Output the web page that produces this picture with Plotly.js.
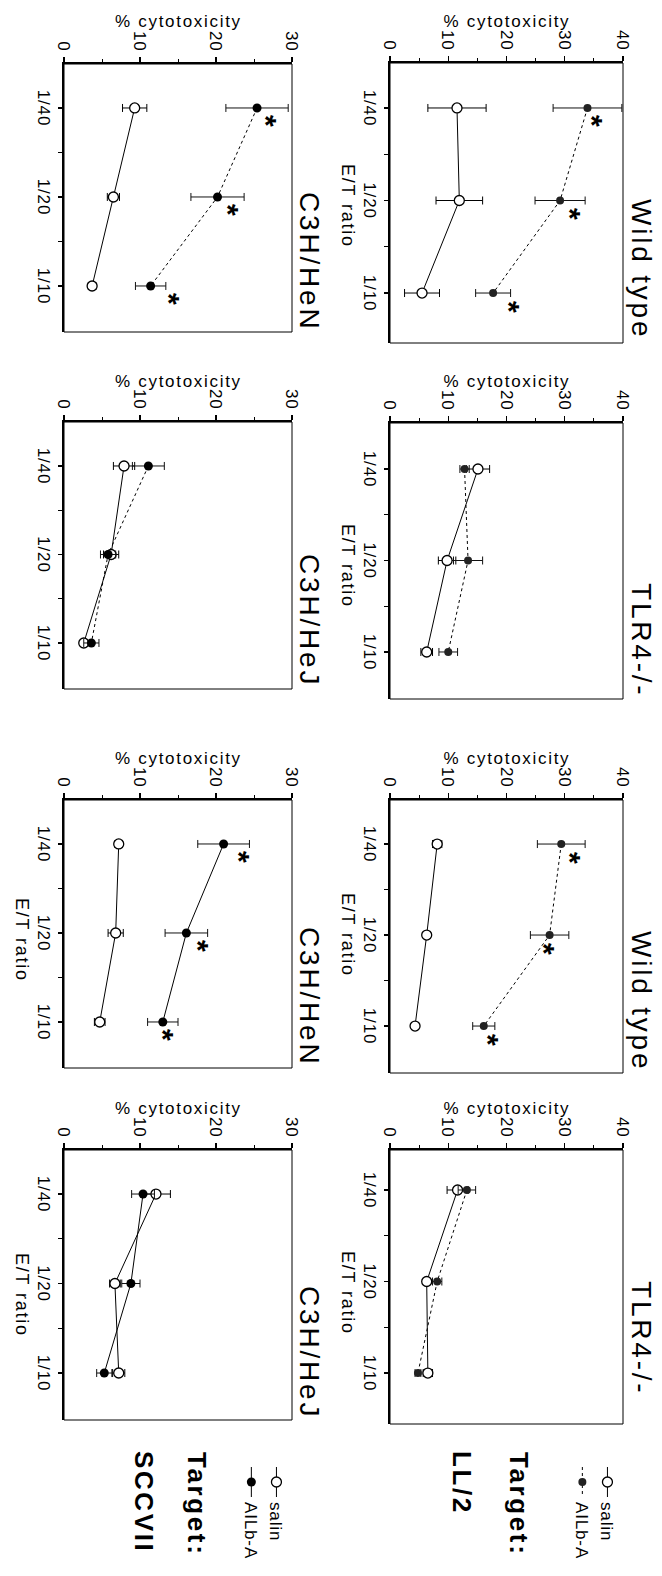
<!DOCTYPE html>
<html><head><meta charset="utf-8">
<script src="https://cdn.plot.ly/plotly-3.0.1.min.js"></script>
<style>
html,body{margin:0;padding:0;overflow:hidden;background:#fff;width:662px;height:1576px;}
#wrap{position:absolute;left:0;top:0;width:1576px;height:662px;transform-origin:0 0;transform:translate(662px,0) rotate(90deg);}
#chart{width:1576px;height:662px;}
text{letter-spacing:0.05em;}
text.annotation-text{letter-spacing:0.1em;}
</style></head>
<body><div id="wrap"><div id="chart"></div></div>
<script>
// ---------- DATA ----------
const categories = ['1/40', '1/20', '1/10'];
const seriesNames = ['salin', 'AILb-A'];

// Target LL/2
const wt1Salin = [11.5, 11.9, 5.5],  wt1SalinErr = [5.0, 4.0, 3.0];
const wt1Ailb  = [33.9, 29.2, 17.7], wt1AilbErr  = [5.9, 4.3, 3.0];
const wt1Stars = [35.7, 31.9, 21.3];
const tlr1Salin = [15.1, 9.8, 6.3],  tlr1SalinErr = [2.0, 1.5, 1.0];
const tlr1Ailb  = [12.8, 13.4, 10.0], tlr1AilbErr = [0.8, 2.5, 1.6];
const wt2Salin = [8.1, 6.3, 4.3],    wt2SalinErr = [0.8, 0.5, 0.4];
const wt2Ailb  = [29.4, 27.4, 16.1], wt2AilbErr  = [4.1, 3.3, 1.9];
const wt2Stars = [31.9, 27.4, 17.8];
const tlr2Salin = [11.6, 6.3, 6.5],  tlr2SalinErr = [1.8, 0.5, 0.8];
const tlr2Ailb  = [13.2, 8.1, 4.8],  tlr2AilbErr  = [1.5, 0.8, 0.5];

// Target SCCVII
const hen1Salin = [9.3, 6.5, 3.7],   hen1SalinErr = [1.6, 0.8, 0.5];
const hen1Ailb  = [25.4, 20.2, 11.4], hen1AilbErr = [4.1, 3.5, 2.0];
const hen1Stars = [27.3, 22.3, 14.5];
const hej1Salin = [7.9, 6.2, 2.6],   hej1SalinErr = [1.4, 1.0, 0.4];
const hej1Ailb  = [11.1, 5.8, 3.6],  hej1AilbErr  = [2.1, 1.0, 1.0];
const hen2Salin = [7.2, 6.8, 4.7],   hen2SalinErr = [0.5, 1.0, 0.7];
const hen2Ailb  = [21.0, 16.1, 13.0], hen2AilbErr = [3.4, 2.8, 2.0];
const hen2Stars = [23.8, 18.4, 13.7];
const hej2Salin = [12.1, 6.7, 7.2],  hej2SalinErr = [1.9, 0.7, 0.8];
const hej2Ailb  = [10.4, 8.8, 5.3],  hej2AilbErr  = [1.5, 1.2, 1.0];

const panelTitles = ['Wild type', 'TLR4-/-', 'Wild type', 'TLR4-/-', 'C3H/HeN', 'C3H/HeJ', 'C3H/HeN', 'C3H/HeJ'];
const targetLabels = ['LL/2', 'SCCVII'];
const yTitle = '% cytotoxicity';
const xTitle = 'E/T ratio';

const panels = [
  {s: wt1Salin, se: wt1SalinErr, a: wt1Ailb, ae: wt1AilbErr, st: wt1Stars},
  {s: tlr1Salin, se: tlr1SalinErr, a: tlr1Ailb, ae: tlr1AilbErr, st: null},
  {s: wt2Salin, se: wt2SalinErr, a: wt2Ailb, ae: wt2AilbErr, st: wt2Stars},
  {s: tlr2Salin, se: tlr2SalinErr, a: tlr2Ailb, ae: tlr2AilbErr, st: null},
  {s: hen1Salin, se: hen1SalinErr, a: hen1Ailb, ae: hen1AilbErr, st: hen1Stars},
  {s: hej1Salin, se: hej1SalinErr, a: hej1Ailb, ae: hej1AilbErr, st: null},
  {s: hen2Salin, se: hen2SalinErr, a: hen2Ailb, ae: hen2AilbErr, st: hen2Stars},
  {s: hej2Salin, se: hej2SalinErr, a: hej2Ailb, ae: hej2AilbErr, st: null}
];

// ---------- GEOMETRY (pixels in the unrotated 1576x662 figure) ----------
const W = 1576, H = 662;
const colSpan = [[390, 623], [390, 623], [390, 623], [390, 623], [64, 292], [64, 292], [64, 292], [64, 292]];
const rowSpan = [[63, 343], [423, 699], [800, 1073], [1150, 1424], [64, 332], [422, 689], [800, 1068], [1150, 1420]];
const catRange = [[-0.486, 2.54], [-0.503, 2.514], [-0.484, 2.516], [-0.437, 2.557],
                  [-0.494, 2.517], [-0.497, 2.52], [-0.494, 2.517], [-0.492, 2.525]];
const yMax = [40, 40, 40, 40, 30, 30, 30, 30];
const titleEnd = [341, 700, 1073, 1398, 333, 689, 1068, 1421];
const yTitlePos = [21, 381, 758, 1108, 21, 381, 758, 1108];
const xTitlePos = [206, 566, 935, 1293, null, null, 940, 1295];
const ailbDash = ['dot', 'dot', 'dot', 'dot', 'dot', 'dot', 'solid', 'solid'];
const legendFrom = [0, 6];

const traces = [];
const layout = {
  width: W, height: H,
  margin: {l: 0, r: 0, t: 0, b: 0},
  paper_bgcolor: '#fff', plot_bgcolor: 'rgba(0,0,0,0)',
  font: {family: 'Liberation Sans, Arial, sans-serif', size: 17, color: '#000'},
  showlegend: true,
  legend: {x: 1462 / W, xanchor: 'left', y: 1 - 37 / H, yanchor: 'top', font: {size: 17},
           bgcolor: 'rgba(0,0,0,0)', tracegroupgap: 0},
  legend2: {x: 1462 / W, xanchor: 'left', y: 1 - 368 / H, yanchor: 'top', font: {size: 17},
            bgcolor: 'rgba(0,0,0,0)', tracegroupgap: 0},
  annotations: [], shapes: []
};

panels.forEach((p, k) => {
  const sfx = k === 0 ? '' : String(k + 1);
  const xa = 'x' + sfx, ya = 'y' + sfx;
  const colB = k < 4;
  const xIdx = categories.map((c, i) => i);
  const showLeg = legendFrom.indexOf(k) >= 0;
  const legName = colB ? 'legend' : 'legend2';

  traces.push({
    type: 'scatter', mode: 'lines+markers', name: seriesNames[0],
    x: xIdx, y: p.s, xaxis: xa, yaxis: ya,
    error_y: {type: 'data', array: p.se, visible: true, color: '#000', thickness: 1, width: 4},
    line: {color: '#000', width: 1},
    marker: {symbol: 'circle', size: 10, color: '#fff', line: {color: '#000', width: 1.3}},
    showlegend: showLeg, legend: legName, hoverinfo: 'skip'
  });
  traces.push({
    type: 'scatter', mode: 'lines+markers', name: seriesNames[1],
    x: xIdx, y: p.a, xaxis: xa, yaxis: ya,
    error_y: {type: 'data', array: p.ae, visible: true, color: '#111', thickness: 1, width: 4},
    line: {color: '#000', width: 1, dash: ailbDash[k]},
    marker: {symbol: 'circle', size: colB ? 8 : 9, color: colB ? '#222' : '#000'},
    showlegend: showLeg, legend: legName, hoverinfo: 'skip'
  });

  layout['xaxis' + sfx] = {
    domain: [rowSpan[k][0] / W, rowSpan[k][1] / W], range: catRange[k], anchor: ya,
    tickmode: 'array', tickvals: xIdx, ticktext: categories,
    ticks: 'outside', ticklen: 4, tickwidth: 1.3, tickcolor: '#000',
    minor: {tickmode: 'array', tickvals: [0.5, 1.5], ticks: 'outside', ticklen: 4, tickwidth: 1, tickcolor: '#000', showgrid: false},
    showline: true, linewidth: 2, linecolor: '#000', showgrid: false, zeroline: false,
    tickfont: {size: 17}, ticklabelstandoff: 0, fixedrange: true
  };
  layout['yaxis' + sfx] = {
    domain: [colSpan[k][0] / H, colSpan[k][1] / H], range: [0, yMax[k]], anchor: xa,
    tickmode: 'linear', tick0: 0, dtick: 10,
    ticks: 'outside', ticklen: 5, tickwidth: 1.3, tickcolor: '#000',
    minor: {tickmode: 'linear', tick0: 0, dtick: 5, ticks: 'outside', ticklen: 3, tickwidth: 1, tickcolor: '#000', showgrid: false},
    showline: true, linewidth: 2, linecolor: '#000', showgrid: false, zeroline: false,
    tickfont: {size: 17}, ticklabelstandoff: 2, fixedrange: true
  };
  layout.shapes.push({type: 'rect', xref: xa + ' domain', yref: ya + ' domain',
    x0: 0, x1: 1, y0: 0, y1: 1, line: {color: '#000', width: 1}, layer: 'above'});

  const midY = (colSpan[k][0] + colSpan[k][1]) / 2;
  // panel title
  layout.annotations.push({xref: 'paper', yref: 'paper', x: titleEnd[k] / W, y: (colB ? 641.7 : 309.7) / H,
    xanchor: 'right', yanchor: 'middle', text: panelTitles[k], showarrow: false, font: {size: 28}});
  // value axis title
  layout.annotations.push({xref: 'paper', yref: 'paper', x: yTitlePos[k] / W, y: midY / H,
    xanchor: 'center', yanchor: 'middle', textangle: -90, text: yTitle, showarrow: false, font: {size: 17}});
  // category axis title
  if (xTitlePos[k] !== null) {
    layout.annotations.push({xref: 'paper', yref: 'paper', x: xTitlePos[k] / W, y: (colB ? 348.2 : 22.2) / H,
      xanchor: 'center', yanchor: 'middle', text: xTitle, showarrow: false, font: {size: 18}});
  }
  // significance asterisks
  if (p.st) {
    p.st.forEach((v, i) => {
      layout.annotations.push({xref: xa, yref: ya, x: i, y: v, text: '*', showarrow: false,
        xanchor: 'center', yanchor: 'middle', xshift: 15, yshift: -5,
        font: {size: 30, weight: 'bold'}});
    });
  }
});

// target labels
[[519, 462], [197.5, 144]].forEach((pos, j) => {
  layout.annotations.push({xref: 'paper', yref: 'paper', x: 1450 / W, y: pos[0] / H, xanchor: 'left', yanchor: 'middle',
    text: 'Target:', showarrow: false, font: {size: 26, weight: 'bold'}});
  layout.annotations.push({xref: 'paper', yref: 'paper', x: 1449 / W, y: pos[1] / H, xanchor: 'left', yanchor: 'middle',
    text: targetLabels[j], showarrow: false, font: {size: 26, weight: 'bold'}});
});

Plotly.newPlot('chart', traces, layout, {staticPlot: true, displayModeBar: false});
</script></body></html>
